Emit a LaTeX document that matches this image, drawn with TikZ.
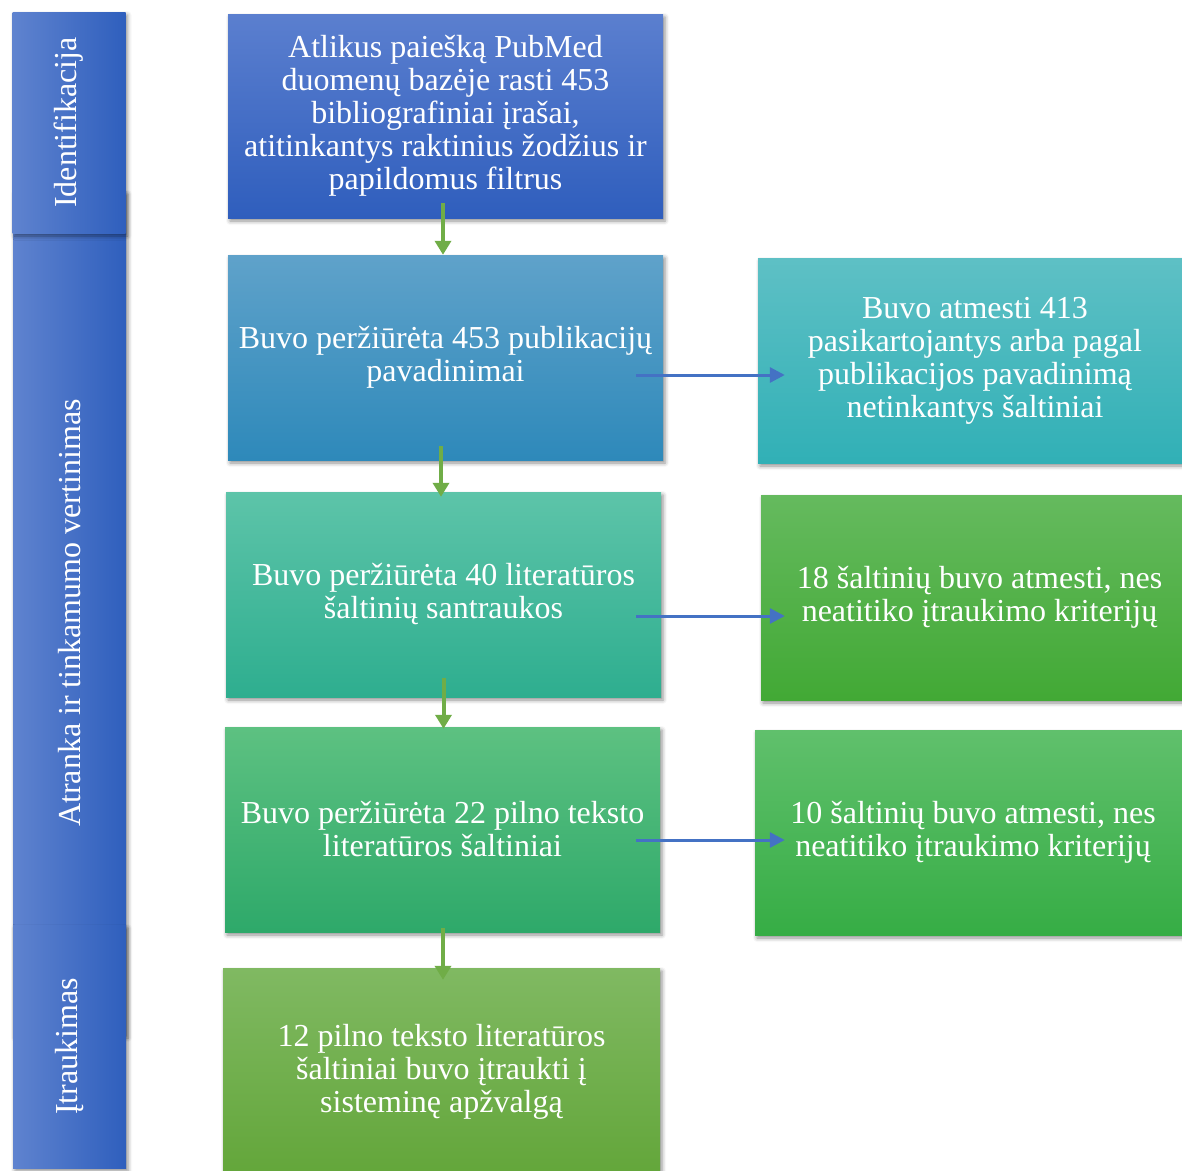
\documentclass[tikz,border=0pt]{standalone}
\usepackage{fontspec}
\setmainfont{Liberation Serif}
\usepackage{tikz}
\usetikzlibrary{arrows.meta,shadows.blur}

\definecolor{barL}{HTML}{5F83CF}
\definecolor{barR}{HTML}{2F5FBD}
\definecolor{oneT}{HTML}{5B7FCF}
\definecolor{oneB}{HTML}{2F5EBD}
\definecolor{twoT}{HTML}{5FA2CA}
\definecolor{twoB}{HTML}{2E89BA}
\definecolor{threeT}{HTML}{5DC4A9}
\definecolor{threeB}{HTML}{2EAE8F}
\definecolor{fourT}{HTML}{5DC181}
\definecolor{fourB}{HTML}{2EA96A}
\definecolor{fiveT}{HTML}{80B962}
\definecolor{fiveB}{HTML}{63A63A}
\definecolor{rejT}{HTML}{5EC0C5}
\definecolor{rejB}{HTML}{31B0B6}
\definecolor{gaT}{HTML}{65BA5E}
\definecolor{gaB}{HTML}{42A935}
\definecolor{gbT}{HTML}{60C06C}
\definecolor{gbB}{HTML}{36AD45}
\definecolor{flowgreen}{HTML}{70AD47}
\definecolor{flowblue}{HTML}{4472C4}

\tikzset{
	box/.style={inner sep=0pt, text=white, align=center,
		font=\fontsize{32}{33}\selectfont,
		blur shadow={shadow xshift=2pt, shadow yshift=-3pt, shadow blur radius=4pt, shadow opacity=45}},
	stepbox/.style 2 args={box, top color=#1, bottom color=#2, minimum width=435pt, minimum height=205pt},
	phase/.style={box, minimum width=113pt, left color=barL, right color=barR},
	phaselabel/.style={rotate=90, text=white, font=\fontsize{32}{33}\selectfont},
	downarrow/.style={draw=flowgreen, line width=4pt, -{Triangle[width=16pt,length=14pt]}},
	sidearrow/.style={draw=flowblue, line width=3pt, -{Triangle[width=15pt,length=15pt]}},
}

\begin{document}
\begin{tikzpicture}[x=1pt,y=-1pt]
			\useasboundingbox (0,0) rectangle (1182,1170);
			% stages on the left
			\node (atranka) [phase, minimum height=844pt, label={[phaselabel]center:Atranka ir tinkamumo vertinimas}] at (69.5,613) {};
			\node (ident) [phase, minimum height=221pt, label={[phaselabel]center:Identifikacija}] at (69,122.5) {};
			\node (itrauk) [phase, minimum height=243pt, label={[phaselabel]center:Įtraukimas}] at (69.5,1046.5) {};
			% main column
			\node (paieska) [stepbox={oneT}{oneB}, minimum height=204pt] at (445.5,116) {Atlikus paiešką PubMed\\duomenų bazėje rasti 453\\bibliografiniai įrašai,\\atitinkantys raktinius žodžius ir\\papildomus filtrus};
			\node (pavad) [stepbox={twoT}{twoB}] at (445.5,357.5) {Buvo peržiūrėta 453 publikacijų\\pavadinimai};
			\node (santr) [stepbox={threeT}{threeB}] at (443.5,594.5) {Buvo peržiūrėta 40 literatūros\\šaltinių santraukos};
			\node (pilni) [stepbox={fourT}{fourB}] at (442.5,829.5) {Buvo peržiūrėta 22 pilno teksto\\literatūros šaltiniai};
			\node (itraukti) [stepbox={fiveT}{fiveB}, minimum width=437pt, minimum height=207pt] at (441.5,1071.5) {12 pilno teksto literatūros\\šaltiniai buvo įtraukti į\\sisteminę apžvalgą};
			% rejected on the right
			\node (atmesta1) [stepbox={rejT}{rejB}, minimum width=434pt] at (975,360.5) {Buvo atmesti 413\\pasikartojantys arba pagal\\publikacijos pavadinimą\\netinkantys šaltiniai};
			\node (atmesta2) [stepbox={gaT}{gaB}, minimum width=437pt] at (979.5,597.5) {18 šaltinių buvo atmesti, nes\\neatitiko įtraukimo kriterijų};
			\node (atmesta3) [stepbox={gbT}{gbB}, minimum width=436pt] at (973,832.5) {10 šaltinių buvo atmesti, nes\\neatitiko įtraukimo kriterijų};
			% arrows
			\draw [downarrow] ([xshift=-2.5pt,yshift=15pt]paieska.south) -- ([xshift=-2.5pt]pavad.north);
			\draw [downarrow] ([xshift=-4.5pt,yshift=14pt]pavad.south) -- ([xshift=-2.5pt,yshift=-5pt]santr.north);
			\draw [downarrow] ([yshift=19pt]santr.south) -- ([xshift=1pt,yshift=-2pt]pilni.north);
			\draw [downarrow] ([xshift=0.5pt,yshift=4pt]pilni.south) -- ([xshift=1.5pt,yshift=-12pt]itraukti.north);
			\draw [sidearrow] ([xshift=-27pt,yshift=-17.5pt]pavad.east) -- ([xshift=27pt,yshift=-14.5pt]atmesta1.west);
			\draw [sidearrow] ([xshift=-25pt,yshift=-21.5pt]santr.east) -- ([xshift=24pt,yshift=-18.5pt]atmesta2.west);
			\draw [sidearrow] ([xshift=-24pt,yshift=-10.5pt]pilni.east) -- ([xshift=30pt,yshift=-7.5pt]atmesta3.west);
\end{tikzpicture}
\end{document}
